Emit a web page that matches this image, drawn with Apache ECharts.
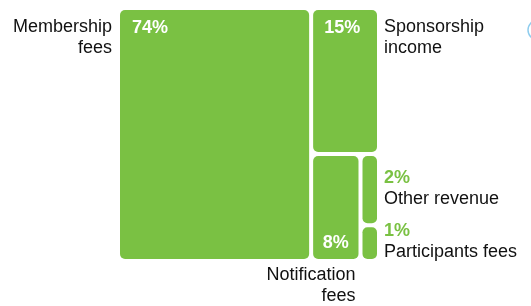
<!DOCTYPE html>
<html>
<head>
<meta charset="utf-8">
<script src="https://cdn.jsdelivr.net/npm/echarts@6/dist/echarts.min.js"></script>
<style>
  html, body { margin: 0; padding: 0; background: #fff; }
  #chart { width: 531px; height: 306px; }
</style>
</head>
<body>
<div id="chart"></div>
<script>
// revenue shares
const categories = ["Membership\nfees", "Sponsorship\nincome", "Notification\nfees", "Other revenue", "Participants fees"];
const shares = [74, 15, 8, 2, 1];

const green = "#7ac143";
const font = '"Liberation Sans", Arial, sans-serif';

// slice and dice: each cell takes its share of what is left, alternating direction
function sliceDice(vals) {
  let x0 = 0, y0 = 0, x1 = 100, y1 = 100;
  let horizontal = true;
  const cells = [];
  for (let i = 0; i < vals.length; i++) {
    const rest = vals.slice(i).reduce((a, b) => a + b, 0);
    if (i === vals.length - 1) {
      cells.push([x0, y0, x1, y1]);
    } else if (horizontal) {
      const w = (x1 - x0) * vals[i] / rest;
      cells.push([x0, y0, x0 + w, y1]);
      x0 += w;
    } else {
      const h = (y1 - y0) * vals[i] / rest;
      cells.push([x0, y0, x1, y0 + h]);
      y0 += h;
    }
    horizontal = !horizontal;
  }
  return cells;
}

const cells = sliceDice(shares);
const seriesData = cells.map((c, i) => ({
  name: categories[i],
  value: [c[0], c[1], c[2], c[3], shares[i]],
}));

const gap = 2;

function renderItem(params, api) {
  const i = params.dataIndex;
  const p0 = api.coord([api.value(0), api.value(1)]);
  const p1 = api.coord([api.value(2), api.value(3)]);
  const x = p0[0] + gap, y = p0[1] + gap;
  const w = p1[0] - p0[0] - gap * 2, h = p1[1] - p0[1] - gap * 2;
  const pct = api.value(4) + "%";
  const name = categories[i];
  const children = [
    { type: "rect", shape: { x, y, width: w, height: h, r: 5 }, style: { fill: green } },
  ];
  const pctStyle = { fill: "#fff", font: "bold 18px " + font, lineHeight: 18 };
  const nameStyle = { fill: "#111", font: "18px " + font, lineHeight: 21 };

  if (i === 0) {
    children.push({ type: "text", style: Object.assign({ text: pct, x: x + 12, y: y + 9.5, align: "left", verticalAlign: "top" }, pctStyle) });
    children.push({ type: "text", style: Object.assign({ text: name, x: x - 8, y: y + 7, align: "right", verticalAlign: "top" }, nameStyle) });
  } else if (i === 1) {
    children.push({ type: "text", style: Object.assign({ text: pct, x: x + 11, y: y + 9.5, align: "left", verticalAlign: "top" }, pctStyle) });
    children.push({ type: "text", style: Object.assign({ text: name, x: x + w + 7, y: y + 7, align: "left", verticalAlign: "top" }, nameStyle) });
  } else if (i === 2) {
    children.push({ type: "text", style: Object.assign({ text: pct, x: x + w / 2, y: y + h - 6.5, align: "center", verticalAlign: "bottom" }, pctStyle) });
    children.push({ type: "text", style: Object.assign({ text: name, x: x + w - 3, y: y + h + 6, align: "right", verticalAlign: "top" }, nameStyle) });
  } else {
    children.push({
      type: "text",
      style: {
        text: "{p|" + pct + "}\n{n|" + name + "}",
        x: x + w + 7, y: y + h / 2 - 1.5, align: "left", verticalAlign: "middle",
        rich: {
          p: { fill: green, font: "bold 18px " + font, lineHeight: 21 },
          n: { fill: "#111", font: "18px " + font, lineHeight: 21 },
        },
      },
    });
  }
  return { type: "group", children };
}

const chart = echarts.init(document.getElementById("chart"));
chart.setOption({
  animation: false,
  grid: { left: 118, top: 8, width: 261, height: 253 },
  xAxis: { type: "value", min: 0, max: 100, show: false },
  yAxis: { type: "value", min: 0, max: 100, inverse: true, show: false },
  graphic: [
    { type: "circle", shape: { cx: 538, cy: 30, r: 10 }, style: { fill: "none", stroke: "#8fcdee", lineWidth: 1.5 } },
  ],
  series: [
    {
      type: "custom",
      renderItem,
      data: seriesData,
      clip: false,
    },
  ],
});
</script>
</body>
</html>
